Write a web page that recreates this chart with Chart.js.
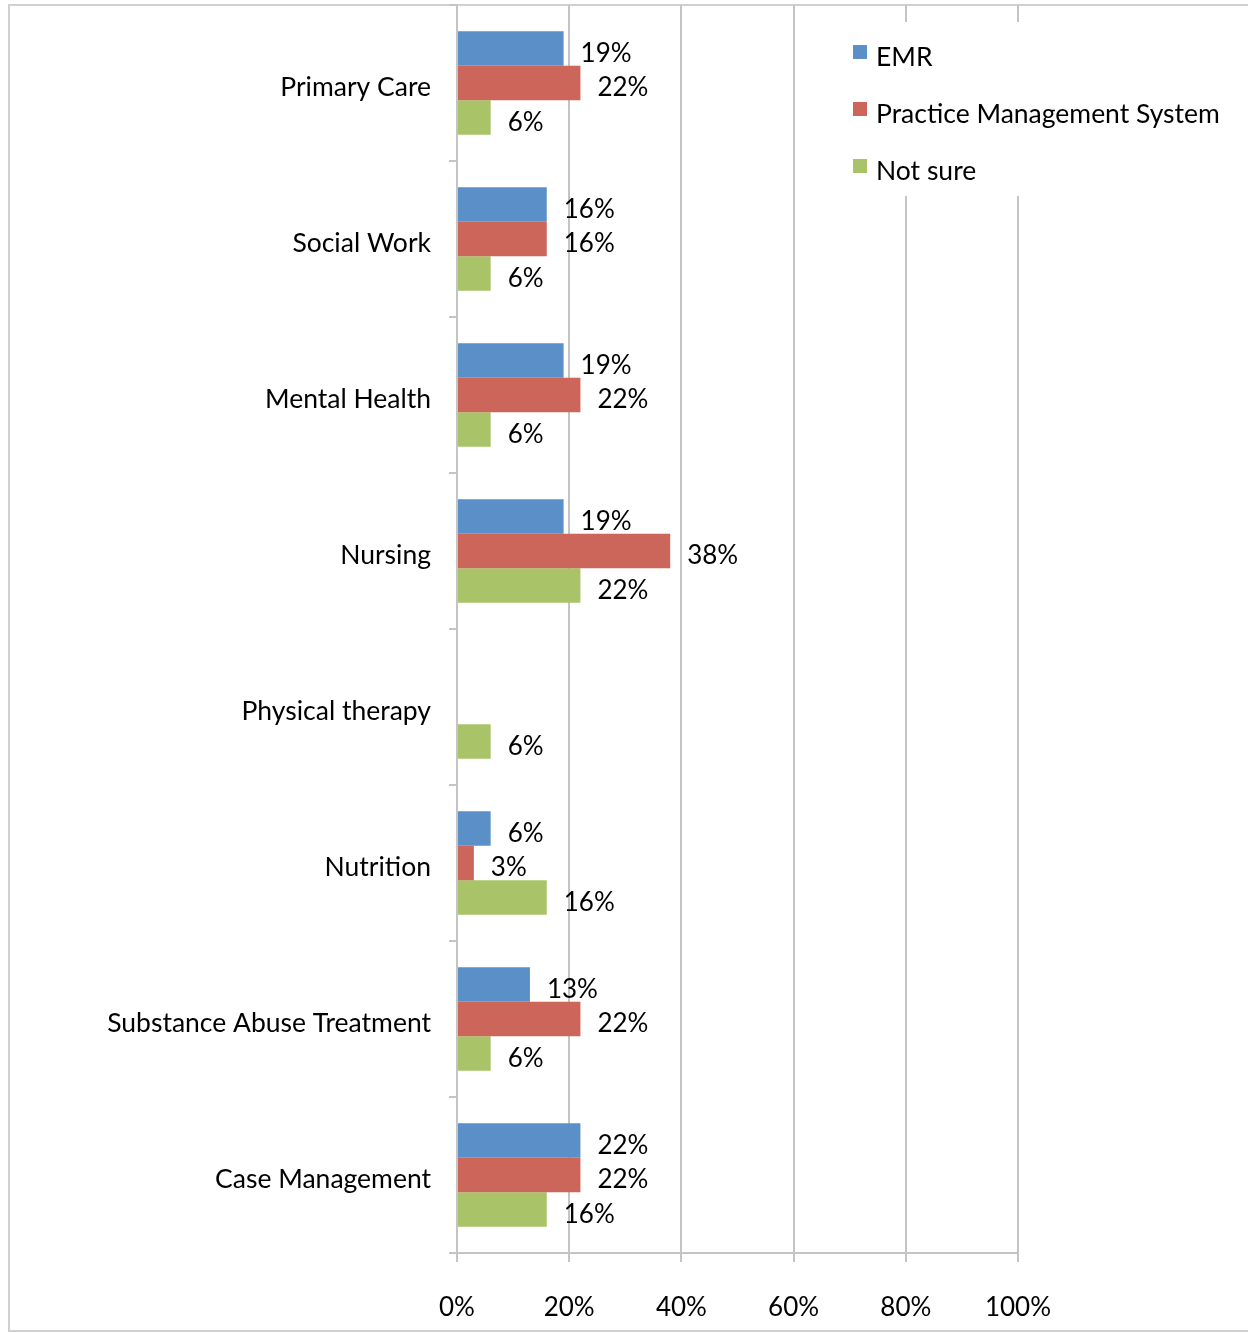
<!DOCTYPE html>
<html>
<head>
<meta charset="utf-8">
<script src="https://cdn.jsdelivr.net/npm/chart.js@4.4.0/dist/chart.umd.min.js"></script>
<style>
  html, body { margin: 0; padding: 0; background: #fff; }
  #wrap { width: 1248px; height: 1333px; position: relative; }
</style>
</head>
<body>
<div id="wrap"><canvas id="sysChart"></canvas></div>
<script>
var categories = ['Primary Care', 'Social Work', 'Mental Health', 'Nursing',
  'Physical therapy', 'Nutrition', 'Substance Abuse Treatment', 'Case Management'];
var emrValues = [19, 16, 19, 19, null, 6, 13, 22];
var pmsValues = [22, 16, 22, 38, null, 3, 22, 22];
var notSureValues = [6, 6, 6, 22, 6, 16, 6, 16];
var seriesNames = ['EMR', 'Practice Management System', 'Not sure'];
var seriesColors = ['#5b8fc7', '#cc655a', '#a9c468'];
var xTicks = [0, 20, 40, 60, 80, 100];

var FONT = 'Lato, "Open Sans", sans-serif';

// frame around the whole figure
var framePlugin = {
  id: 'frame',
  beforeDraw: function(chart) {
    var c = chart.ctx;
    c.save();
    c.strokeStyle = '#d0d0d0';
    c.lineWidth = 2;
    c.strokeRect(9, 5, 1260, 1326);
    c.restore();
  }
};

// percentage labels to the right of each bar
var labelPlugin = {
  id: 'barLabels',
  afterDatasetsDraw: function(chart) {
    var c = chart.ctx;
    c.save();
    c.font = '26px ' + FONT;
    c.fillStyle = '#000';
    c.textAlign = 'left';
    c.textBaseline = 'middle';
    chart.data.datasets.forEach(function(ds, i) {
      chart.getDatasetMeta(i).data.forEach(function(bar, j) {
        var v = ds.data[j];
        if (v === null || v === undefined) return;
        c.fillText(v + '%', bar.x + 17, bar.y + 5);
      });
    });
    c.restore();
  }
};

// legend box in the upper right of the plot
var legendPlugin = {
  id: 'boxLegend',
  afterDraw: function(chart) {
    var c = chart.ctx;
    c.save();
    c.fillStyle = '#fff';
    c.fillRect(840, 22, 395, 174);
    c.font = '26.5px ' + FONT;
    c.textBaseline = 'middle';
    c.textAlign = 'left';
    seriesNames.forEach(function(name, i) {
      var y = 56 + i * 57;
      c.fillStyle = seriesColors[i];
      c.fillRect(853, y - 11, 14, 14);
      c.fillStyle = '#000';
      c.fillText(name, 876, y + 1);
    });
    c.restore();
  }
};

var datasets = [emrValues, pmsValues, notSureValues].map(function(vals, i) {
  return {
    label: seriesNames[i],
    data: vals,
    backgroundColor: seriesColors[i],
    categoryPercentage: 0.665,
    barPercentage: 1.0
  };
});

var ctx = document.getElementById('sysChart').getContext('2d');
var chart = new Chart(ctx, {
  type: 'bar',
  data: { labels: categories, datasets: datasets },
  options: {
    indexAxis: 'y',
    responsive: true,
    maintainAspectRatio: false,
    animation: false,
    layout: { padding: { top: 5, right: 230, bottom: 0, left: 0 } },
    plugins: {
      legend: { display: false },
      tooltip: { enabled: false }
    },
    scales: {
      x: {
        min: 0,
        max: 100,
        afterBuildTicks: function(scale) {
          scale.ticks = xTicks.map(function(v) { return { value: v }; });
        },
        afterFit: function(scale) {
          scale.height = 80;
          scale.paddingLeft = 0;
          scale.paddingRight = 0;
        },
        grid: {
          color: '#c4c4c4',
          lineWidth: 2,
          tickLength: 9,
          drawTicks: true
        },
        border: { color: '#c4c4c4', width: 2 },
        ticks: {
          padding: 30,
          color: '#000',
          font: { family: FONT, size: 26 },
          callback: function(v) { return v + '%'; }
        }
      },
      y: {
        afterFit: function(scale) {
          scale.width = 457;
          scale.paddingTop = 0;
          scale.paddingBottom = 0;
        },
        grid: {
          drawOnChartArea: false,
          drawTicks: true,
          tickLength: 8,
          color: '#c4c4c4',
          lineWidth: 2
        },
        border: { color: '#c4c4c4', width: 2 },
        ticks: {
          padding: 18,
          labelOffset: 4,
          color: '#000',
          font: { family: FONT, size: 26.5 }
        }
      }
    }
  },
  plugins: [framePlugin, labelPlugin, legendPlugin]
});
</script>
</body>
</html>
